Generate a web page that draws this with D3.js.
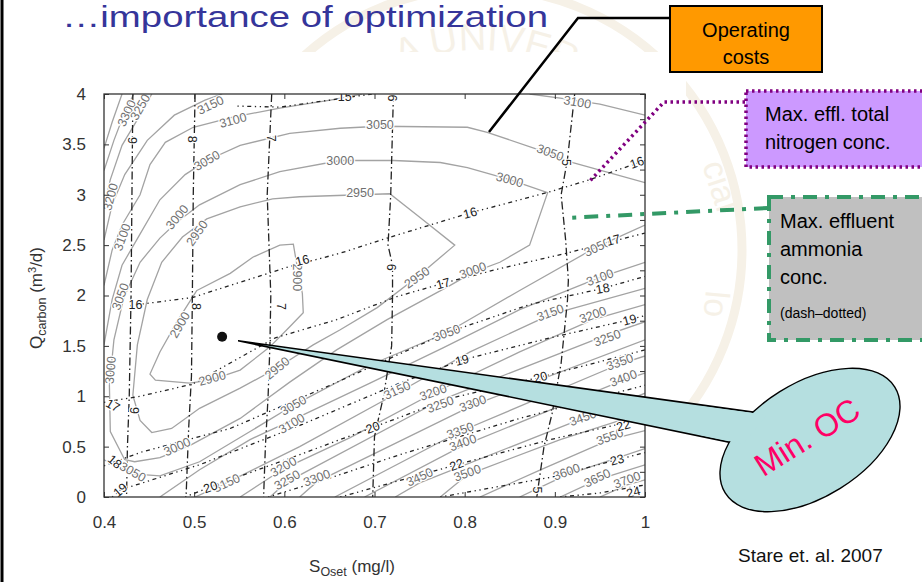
<!DOCTYPE html>
<html>
<head>
<meta charset="utf-8">
<script src="https://cdn.jsdelivr.net/npm/d3@7"></script>
<style>
  body { margin: 0; background: #fff; }
  text { font-family: "Liberation Sans", Arial, sans-serif; }
</style>
</head>
<body>
<div id="chart"></div>
<script>
// svg container
var width = 922;
var height = 582;

// plot frame inside the slide
var margin = { top: 94, left: 104 };
var chartWidth = 541;
var chartHeight = 403;

//// Data ////
// axis ticks
var xTicks = [0.4, 0.5, 0.6, 0.7, 0.8, 0.9, 1];
var yTicks = [0, 0.5, 1, 1.5, 2, 2.5, 3, 3.5, 4];
var yMinorTicks = [0.25, 0.75, 1.25, 1.75, 2.25, 2.75, 3.25, 3.75];

// operating cost contours (S_Oset, Q_carbon)
var costLevels = [2900, 2950, 3000, 3050, 3050, 3100, 3100, 3100, 3150, 3150, 3200, 3200,
                  3250, 3250, 3300, 3300, 3350, 3400, 3450, 3500, 3550, 3600, 3650, 3700];
var costPaths = [
  [[0.503,2.05],[0.540,2.22],[0.565,2.38],[0.595,2.50],[0.610,2.51],[0.613,2.35],[0.620,2.02],[0.621,1.83],[0.606,1.69],[0.584,1.49],[0.551,1.26],[0.518,1.16],[0.495,1.13],[0.457,1.16],[0.451,1.22],[0.462,1.44],[0.481,1.74],[0.503,2.05]],
  [[0.432,1.01],[0.437,1.51],[0.448,1.96],[0.464,2.33],[0.487,2.58],[0.514,2.76],[0.551,2.88],[0.587,2.96],[0.617,2.98],[0.684,3.00],[0.717,3.01],[0.754,2.75],[0.789,2.50],[0.764,2.31],[0.747,2.18],[0.703,1.88],[0.662,1.66],[0.632,1.51],[0.592,1.28],[0.551,1.08],[0.506,0.88],[0.475,0.68],[0.453,0.64],[0.440,0.76],[0.432,1.01]],
  [[0.423,0.37],[0.407,0.65],[0.406,1.11],[0.411,1.56],[0.422,1.98],[0.440,2.33],[0.462,2.57],[0.481,2.73],[0.506,2.90],[0.551,3.10],[0.595,3.23],[0.662,3.34],[0.721,3.34],[0.773,3.32],[0.803,3.27],[0.850,3.15],[0.892,3.02],[0.872,2.50],[0.839,2.33],[0.809,2.23],[0.784,2.10],[0.714,1.76],[0.658,1.46],[0.606,1.14],[0.551,0.78],[0.495,0.51],[0.462,0.39],[0.434,0.35],[0.423,0.37]],
  [[0.400,1.51],[0.409,1.96],[0.420,2.30],[0.438,2.58],[0.462,2.95],[0.490,3.20],[0.514,3.34],[0.551,3.49],[0.606,3.61],[0.662,3.66],[0.706,3.68],[0.803,3.67],[0.825,3.62],[0.884,3.44],[0.920,3.32],[1.0,3.12]],
  [[0.400,0.37],[0.432,0.23],[0.462,0.21],[0.506,0.35],[0.562,0.65],[0.610,0.91],[0.695,1.31],[0.780,1.63],[0.861,2.05],[0.946,2.48],[1.0,2.70]],
  [[0.400,2.10],[0.409,2.45],[0.420,2.70],[0.440,3.00],[0.451,3.30],[0.468,3.52],[0.499,3.67],[0.543,3.77],[0.595,3.86],[0.651,3.94],[0.686,4.0]],
  [[0.872,4.0],[0.906,3.96],[0.950,3.90],[1.0,3.79]],
  [[0.462,0],[0.506,0.27],[0.562,0.57],[0.608,0.76],[0.695,1.13],[0.776,1.48],[0.861,1.86],[0.950,2.18],[1.0,2.33]],
  [[0.400,2.55],[0.409,2.90],[0.423,3.20],[0.448,3.54],[0.478,3.79],[0.512,3.94],[0.531,4.0]],
  [[0.501,0],[0.536,0.14],[0.617,0.50],[0.725,1.03],[0.806,1.44],[0.895,1.81],[1.0,2.07]],
  [[0.400,2.87],[0.407,3.15],[0.420,3.49],[0.440,3.79],[0.453,4.0]],
  [[0.551,0],[0.599,0.28],[0.673,0.59],[0.765,1.03],[0.861,1.44],[0.942,1.76],[1.0,1.91]],
  [[0.400,3.24],[0.411,3.54],[0.423,3.82],[0.433,4.0]],
  [[0.584,0],[0.603,0.15],[0.773,0.96],[0.958,1.61],[1.0,1.74]],
  [[0.400,3.46],[0.409,3.72],[0.420,4.0]],
  [[0.617,0],[0.636,0.15],[0.809,0.91],[1.0,1.56]],
  [[0.656,0],[0.795,0.65],[0.972,1.32],[1.0,1.40]],
  [[0.689,0],[0.798,0.51],[0.976,1.16],[1.0,1.23]],
  [[0.723,0],[0.750,0.14],[0.931,0.78],[1.0,1.03]],
  [[0.773,0],[0.803,0.22],[0.906,0.57],[1.0,0.84]],
  [[0.817,0],[0.884,0.27],[0.961,0.57],[1.0,0.66]],
  [[0.861,0],[0.913,0.22],[1.0,0.48]],
  [[0.906,0],[0.947,0.17],[1.0,0.32]],
  [[0.950,0],[0.980,0.12],[1.0,0.17]]
];
// [x, y, label, angle]
var costLabels = [
  [0.425,3.81,"3300",-65],[0.440,3.87,"3250",-60],[0.407,2.98,"3200",-75],[0.518,3.89,"3150",-25],
  [0.543,3.74,"3100",-15],[0.420,2.58,"3100",-70],[0.514,3.34,"3050",-30],[0.481,2.78,"3000",-50],
  [0.503,2.62,"2950",-55],[0.662,3.34,"3000",0],[0.706,3.70,"3050",0],[0.850,3.15,"3000",15],
  [0.895,3.42,"3050",20],[0.925,3.92,"3100",10],[0.684,3.02,"2950",0],[0.747,2.18,"2950",-35],
  [0.615,2.18,"2900",90],[0.484,1.71,"2900",-60],[0.520,1.18,"2900",-15],[0.418,1.99,"3050",-70],
  [0.407,1.26,"3000",-85],[0.809,2.25,"3000",-20],[0.947,2.48,"3050",-25],[0.950,2.18,"3100",-20],
  [0.592,1.28,"2950",-40],[0.481,0.50,"3000",-25],[0.610,0.91,"3050",-30],[0.608,0.73,"3100",-30],
  [0.432,0.25,"3050",30],[0.780,1.63,"3050",-20],[0.895,1.83,"3150",-20],[0.942,1.81,"3200",-20],
  [0.958,1.58,"3250",-20],[0.536,0.14,"3150",-25],[0.725,1.06,"3150",-25],[0.599,0.30,"3200",-30],
  [0.765,1.04,"3200",-20],[0.773,0.92,"3250",-20],[0.603,0.17,"3250",-30],[0.636,0.19,"3300",-20],
  [0.809,0.93,"3300",-20],[0.795,0.66,"3350",-20],[0.972,1.34,"3350",-20],[0.798,0.54,"3400",-20],
  [0.976,1.18,"3400",-20],[0.750,0.20,"3450",-25],[0.931,0.79,"3450",-20],[0.803,0.24,"3500",-20],
  [0.961,0.60,"3550",-20],[0.913,0.25,"3600",-20],[0.947,0.19,"3650",-25],[0.980,0.17,"3700",-20]
];

// effluent total nitrogen contours (dotted)
var nitrogenLevels = [15, 16, 17, 18, 19, 20, 21, 22, 23, 24];
var nitrogenPaths = [
  [[0.548,3.88],[0.595,3.87],[0.651,3.94],[0.697,4.0]],
  [[0.429,1.90],[0.498,1.98],[0.603,2.28],[0.662,2.42],[0.714,2.57],[0.806,2.82],[0.891,3.02],[0.939,3.15],[1.0,3.34]],
  [[0.400,0.94],[0.440,1.00],[0.498,1.12],[0.590,1.58],[0.658,1.76],[0.725,1.99],[0.776,2.12],[0.831,2.25],[0.913,2.42],[1.0,2.62]],
  [[0.400,0.31],[0.443,0.45],[0.540,0.68],[0.651,1.11],[0.780,1.63],[0.872,1.91],[0.953,2.07],[1.0,2.19]],
  [[0.409,0],[0.418,0.07],[0.506,0.32],[0.617,0.71],[0.728,1.13],[0.797,1.36],[0.895,1.58],[0.983,1.76],[1.0,1.80]],
  [[0.490,0],[0.518,0.10],[0.617,0.42],[0.698,0.69],[0.784,0.98],[0.884,1.19],[1.0,1.46]],
  [[0.582,0],[0.651,0.19],[0.728,0.42],[0.861,0.78],[1.0,1.11]],
  [[0.662,0],[0.791,0.32],[0.895,0.57],[1.0,0.78]],
  [[0.773,0],[0.898,0.20],[0.969,0.37],[1.0,0.44]],
  [[0.906,0],[0.950,0.04],[1.0,0.12]]
];
var nitrogenLabels = [
  [0.667,3.97,"15",0],[0.435,1.91,"16",0],[0.620,2.35,"16",-15],[0.806,2.82,"16",-15],[0.991,3.32,"16",-20],
  [0.410,0.91,"17",30],[0.776,2.12,"17",-15],[0.965,2.55,"17",-15],[0.412,0.35,"18",40],[0.953,2.07,"18",-10],
  [0.418,0.07,"19",-40],[0.797,1.36,"19",-15],[0.983,1.76,"19",-15],[0.518,0.10,"20",-20],[0.698,0.69,"20",-20],
  [0.884,1.19,"20",-15],[0.791,0.32,"22",-20],[0.976,0.71,"22",-15],[0.969,0.37,"23",-15],[0.987,0.05,"24",-15]
];

// effluent ammonia contours (dash-dotted)
var ammoniaLevels = [9, 8, 7, 6, 5];
var ammoniaPaths = [
  [[0.432,4.0],[0.431,3.0],[0.430,2.0],[0.428,1.0],[0.426,0.5],[0.425,0]],
  [[0.501,4.0],[0.499,3.0],[0.498,2.0],[0.497,1.2],[0.494,0.7],[0.491,0]],
  [[0.586,4.0],[0.581,3.0],[0.585,2.0],[0.584,1.5],[0.582,1.0],[0.579,0.5],[0.577,0]],
  [[0.721,4.0],[0.718,3.0],[0.715,2.5],[0.720,2.3],[0.720,2.0],[0.719,1.5],[0.710,1.0],[0.700,0.6],[0.698,0]],
  [[0.922,4.0],[0.914,3.35],[0.907,3.0],[0.912,2.55],[0.915,2.15],[0.914,1.95],[0.907,1.33],[0.897,0.83],[0.888,0.5],[0.880,0]]
];
var ammoniaLabels = [
  [0.432,3.54,"9",90],[0.434,0.86,"9",90],[0.498,3.55,"8",90],[0.503,1.89,"8",90],[0.586,3.56,"7",90],
  [0.597,1.89,"7",90],[0.720,3.96,"6",90],[0.719,2.28,"6",90],[0.913,3.32,"5",90],[0.881,0.07,"5",90]
];

// minimum operating cost point
var minPoint = [0.531, 1.59];

// create svg container
var svg = d3.select("#chart").append("svg")
    .attr("width", width)
    .attr("height", height);

svg.append("rect").attr("width", width).attr("height", height).attr("fill", "#fff");

//// Watermark of the slide (very faint) ////
var wm = "#f6f1e7";
svg.append("circle").attr("cx", 480).attr("cy", 250).attr("r", 262)
    .attr("fill", "none").attr("stroke", wm).attr("stroke-width", 9);
svg.append("path").attr("id", "wmArc")
    .attr("d", "M280,250 A200,200 0 1 1 680,250 A200,200 0 1 1 280,250")
    .attr("fill", "none");
svg.append("text").attr("font-size", 38).attr("fill", wm)
  .append("textPath").attr("href", "#wmArc").attr("startOffset", 232)
    .text("A UNIVERSITAS");
svg.append("text").attr("transform", "translate(702,165) rotate(72)")
    .attr("font-size", 34).attr("fill", wm).text("cial");
svg.append("text").attr("transform", "translate(706,290) rotate(95)")
    .attr("font-size", 34).attr("fill", wm).text("lo");

// white sheet of the pasted chart picture
svg.append("rect").attr("x", 8).attr("y", 52).attr("width", 678).attr("height", 530).attr("fill", "#fff");

// slide border on the left
svg.append("line").attr("x1", 2).attr("x2", 2).attr("y1", 0).attr("y2", height)
    .attr("stroke", "#000").attr("stroke-width", 3);

// title
svg.append("text")
    .attr("x", 62).attr("y", 27)
    .attr("font-family", "DejaVu Sans, sans-serif")
    .attr("font-size", 30)
    .attr("fill", "#35359a")
    .attr("textLength", 486)
    .attr("lengthAdjust", "spacingAndGlyphs")
    .text("\u2026importance of optimization");

//// Scales ////
var xScale = d3.scaleLinear().domain([0.4, 1]).range([0, chartWidth]);
var yScale = d3.scaleLinear().domain([0, 4]).range([chartHeight, 0]);

var chartGroup = svg.append("g")
    .attr("transform", `translate(${margin.left}, ${margin.top})`);

chartGroup.append("clipPath").attr("id", "plotClip")
  .append("rect").attr("width", chartWidth).attr("height", chartHeight);

var line = d3.line().x(d => xScale(d[0])).y(d => yScale(d[1]));
var plot = chartGroup.append("g").attr("clip-path", "url(#plotClip)");

// cost contours
plot.selectAll("path.cost")
    .data(costPaths)
    .enter().append("path")
    .attr("class", "cost")
    .attr("data-level", (d, i) => costLevels[i])
    .attr("d", line)
    .attr("fill", "none")
    .attr("stroke", "#a3a3a3")
    .attr("stroke-width", 1.3);

// nitrogen contours
plot.selectAll("path.nitro")
    .data(nitrogenPaths)
    .enter().append("path")
    .attr("class", "nitro")
    .attr("data-level", (d, i) => nitrogenLevels[i])
    .attr("d", line)
    .attr("fill", "none")
    .attr("stroke", "#222")
    .attr("stroke-width", 1.3)
    .attr("stroke-dasharray", "1.3,3.6,1.3,3.6,4,3.6");

// ammonia contours
plot.selectAll("path.ammo")
    .data(ammoniaPaths)
    .enter().append("path")
    .attr("class", "ammo")
    .attr("data-level", (d, i) => ammoniaLevels[i])
    .attr("d", line)
    .attr("fill", "none")
    .attr("stroke", "#222")
    .attr("stroke-width", 1.3)
    .attr("stroke-dasharray", "8,3,1.5,3");

// contour labels
function addLabels(data, color) {
  plot.selectAll(null)
      .data(data)
      .enter().append("text")
      .attr("transform", d => `translate(${xScale(d[0])},${yScale(d[1])}) rotate(${d[3]})`)
      .attr("text-anchor", "middle")
      .attr("dy", "0.35em")
      .attr("font-size", 12.5)
      .attr("fill", color)
      .attr("stroke", "#fff")
      .attr("stroke-width", 2.5)
      .attr("paint-order", "stroke")
      .text(d => d[2]);
}
addLabels(costLabels, "#707070");
addLabels(ammoniaLabels, "#222");
addLabels(nitrogenLabels, "#222");

//// Axes ////
var xAxis = d3.axisBottom(xScale).tickValues(xTicks).tickSize(-5).tickPadding(19).tickFormat(d3.format(""));
var yAxis = d3.axisLeft(yScale).tickValues(yTicks).tickSize(-5).tickPadding(18).tickFormat(d3.format(""));

var gx = chartGroup.append("g").attr("transform", `translate(0, ${chartHeight})`).call(xAxis);
var gy = chartGroup.append("g").call(yAxis);
chartGroup.append("g").call(d3.axisTop(xScale).tickValues(xTicks).tickSize(-5).tickFormat(""));
chartGroup.append("g").attr("transform", `translate(${chartWidth}, 0)`)
    .call(d3.axisRight(yScale).tickValues(yTicks.concat(yMinorTicks)).tickSize(-5).tickFormat(""));

chartGroup.selectAll(".domain").remove();
chartGroup.selectAll(".tick line").attr("stroke", "#333");
[gx, gy].forEach(g => g.selectAll("text")
    .attr("font-size", 17)
    .attr("fill", "#333")
    .attr("font-family", "Liberation Sans, Arial, sans-serif"));

chartGroup.append("rect")
    .attr("width", chartWidth).attr("height", chartHeight)
    .attr("fill", "none").attr("stroke", "#333").attr("stroke-width", 1.3);

// axis titles
var xTitle = svg.append("text")
    .attr("x", 352).attr("y", 572)
    .attr("text-anchor", "middle")
    .attr("font-size", 17).attr("fill", "#333");
xTitle.append("tspan").text("S");
xTitle.append("tspan").attr("font-size", 12.5).attr("dy", 4).text("Oset");
xTitle.append("tspan").attr("dy", -4).text(" (mg/l)");

var yTitle = svg.append("text")
    .attr("transform", "translate(42, 298) rotate(-90)")
    .attr("text-anchor", "middle")
    .attr("font-size", 17).attr("fill", "#333");
yTitle.append("tspan").text("Q");
yTitle.append("tspan").attr("font-size", 12.5).attr("dy", 4).text("carbon");
yTitle.append("tspan").attr("dy", -4).text(" (m");
yTitle.append("tspan").attr("font-size", 11).attr("dy", -6).text("3");
yTitle.append("tspan").attr("dy", 6).text("/d)");

//// Annotations ////
var px = xScale(minPoint[0]) + margin.left;
var py = yScale(minPoint[1]) + margin.top;

// callout "Min. OC"
var bubbleFill = "#b5dfe0";
var tip = [px + 16, py + 4];
svg.append("polygon")
    .attr("points", [tip, [767, 414], [743, 445]].join(" "))
    .attr("fill", bubbleFill).attr("stroke", "#000").attr("stroke-width", 1.6);
svg.append("ellipse")
    .attr("transform", "translate(810,440) rotate(-32)")
    .attr("rx", 100).attr("ry", 57)
    .attr("fill", bubbleFill).attr("stroke", "#000").attr("stroke-width", 1.4);
svg.append("polygon")
    .attr("points", [[700, 406], [767, 415], [743, 444], [700, 435]].join(" "))
    .attr("fill", bubbleFill);
svg.append("text")
    .attr("transform", "translate(807,437) rotate(-32)")
    .attr("text-anchor", "middle").attr("dy", "0.35em")
    .attr("font-size", 32).attr("fill", "#ff0066")
    .text("Min. OC");

// minimum point
chartGroup.append("circle")
    .attr("cx", xScale(minPoint[0])).attr("cy", yScale(minPoint[1]))
    .attr("r", 5).attr("fill", "#111");

// operating costs box
svg.append("polyline")
    .attr("points", "670,18 578,18 489,132")
    .attr("fill", "none").attr("stroke", "#000").attr("stroke-width", 2.5);
svg.append("rect")
    .attr("x", 670).attr("y", 6).attr("width", 152).attr("height", 66)
    .attr("fill", "#ff9900").attr("stroke", "#000").attr("stroke-width", 2);
svg.append("text").attr("x", 746).attr("y", 37).attr("text-anchor", "middle")
    .attr("font-size", 20).text("Operating");
svg.append("text").attr("x", 746).attr("y", 64).attr("text-anchor", "middle")
    .attr("font-size", 20).text("costs");

// total nitrogen box
svg.append("polyline")
    .attr("points", "745,102 664,102 588,183")
    .attr("fill", "none").attr("stroke", "#800080").attr("stroke-width", 3.5)
    .attr("stroke-dasharray", "2.5,3.5");
svg.append("rect")
    .attr("x", 746).attr("y", 91).attr("width", 190).attr("height", 76)
    .attr("fill", "#cc99ff").attr("stroke", "#800080").attr("stroke-width", 3.5)
    .attr("stroke-dasharray", "2.5,3.5");
svg.append("text").attr("x", 765).attr("y", 121).attr("font-size", 20).text("Max. effl. total");
svg.append("text").attr("x", 765).attr("y", 149).attr("font-size", 20).text("nitrogen conc.");

// ammonia box
svg.append("line")
    .attr("x1", 768).attr("y1", 208).attr("x2", 565).attr("y2", 218)
    .attr("stroke", "#339966").attr("stroke-width", 4)
    .attr("stroke-dasharray", "14,8,4,8");
svg.append("rect")
    .attr("x", 769).attr("y", 197).attr("width", 170).attr("height", 143)
    .attr("fill", "#c0c0c0").attr("stroke", "#339966").attr("stroke-width", 4)
    .attr("stroke-dasharray", "14,8,4,8");
svg.append("text").attr("x", 780).attr("y", 228).attr("font-size", 20).text("Max. effluent");
svg.append("text").attr("x", 780).attr("y", 256).attr("font-size", 20).text("ammonia");
svg.append("text").attr("x", 780).attr("y", 284).attr("font-size", 20).text("conc.");
svg.append("text").attr("x", 780).attr("y", 318).attr("font-size", 14).text("(dash\u2013dotted)");

// source
svg.append("text").attr("x", 738).attr("y", 562).attr("font-size", 19).attr("fill", "#111")
    .text("Stare et. al. 2007");
</script>
</body>
</html>
